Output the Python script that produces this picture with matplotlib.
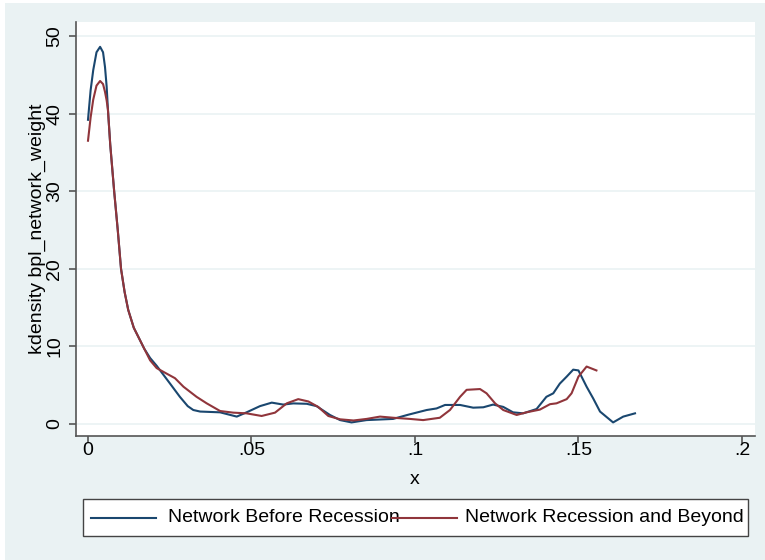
import matplotlib
matplotlib.use("Agg")
import matplotlib.pyplot as plt
from matplotlib.patches import Rectangle
from matplotlib.lines import Line2D

# ---- data ----
series_names = ["Network Before Recession", "Network Recession and Beyond"]

x_before = [0.0000, 0.0008, 0.0016, 0.0026, 0.0037, 0.0046, 0.0052, 0.0057, 0.0061,
            0.0068, 0.0080, 0.0091, 0.0101, 0.0112, 0.0123, 0.0140, 0.0159, 0.0172,
            0.0190, 0.0210, 0.0251, 0.0281,
            0.0305, 0.0322, 0.0343, 0.0404, 0.0455, 0.0485, 0.0526, 0.0562, 0.0597,
            0.0628, 0.0669, 0.0699, 0.0740, 0.0771, 0.0806, 0.0852, 0.0933, 0.0980,
            0.1036, 0.1066, 0.1092, 0.1138, 0.1178, 0.1209, 0.1239, 0.1270, 0.1300,
            0.1331, 0.1372, 0.1402, 0.1423, 0.1443, 0.1464, 0.1484, 0.1500, 0.1525,
            0.1545, 0.1566, 0.1606, 0.1637, 0.1673]
y_before = [39.2, 43.0, 45.6, 47.9, 48.6, 47.9, 46.0, 43.5, 40.5,
            36.0, 30.0, 25.0, 20.0, 17.0, 14.7, 12.4, 10.8, 9.7,
            8.5, 7.5, 5.2, 3.5,
            2.3, 1.8, 1.6, 1.5, 0.95, 1.5, 2.3, 2.75, 2.5,
            2.65, 2.6, 2.3, 1.16, 0.5, 0.2, 0.5, 0.65, 1.2,
            1.8, 2.0, 2.45, 2.45, 2.1, 2.15, 2.5, 2.2, 1.5,
            1.37, 1.93, 3.5, 3.95, 5.2, 6.1, 7.0, 6.9, 4.8,
            3.3, 1.6, 0.2, 0.95, 1.37]

x_after = [0.0000, 0.0008, 0.0016, 0.0026, 0.0037, 0.0046, 0.0052, 0.0057, 0.0061,
           0.0068, 0.0080, 0.0091, 0.0101, 0.0112, 0.0123, 0.0140, 0.0159, 0.0172,
           0.0190, 0.0210, 0.0240, 0.0266,
           0.0292, 0.0332, 0.0363, 0.0404, 0.0444, 0.0485, 0.0531, 0.0572, 0.0608,
           0.0643, 0.0674, 0.0704, 0.0735, 0.0771, 0.0812, 0.0852, 0.0893, 0.0934,
           0.0985, 0.1025, 0.1076, 0.1107, 0.1138, 0.1158, 0.1199, 0.1219, 0.1245,
           0.1270, 0.1311, 0.1341, 0.1382, 0.1413, 0.1433, 0.1464, 0.1479, 0.1500,
           0.1525, 0.1555]
y_after = [36.5, 39.5, 41.8, 43.6, 44.2, 43.8, 42.8, 41.7, 40.5,
           36.0, 30.0, 25.0, 20.0, 17.0, 14.7, 12.4, 10.8, 9.7,
           8.2, 7.2, 6.5, 5.9,
           4.8, 3.5, 2.66, 1.67, 1.46, 1.37, 1.03, 1.46, 2.66,
           3.2, 2.9, 2.2, 1.03, 0.6, 0.45, 0.65, 0.95, 0.8,
           0.65, 0.5, 0.8, 1.8, 3.5, 4.4, 4.5, 3.95, 2.66,
           1.8, 1.16, 1.5, 1.85, 2.55, 2.66, 3.2, 3.95, 6.1,
           7.4, 6.9]

x_ticks = [0, 0.05, 0.1, 0.15, 0.2]
x_tick_labels = ["0", ".05", ".1", ".15", ".2"]
y_ticks = [0, 10, 20, 30, 40, 50]
y_tick_labels = ["0", "10", "20", "30", "40", "50"]
x_label = "x"
y_label = "kdensity bpl_network_weight"

# ---- styling ----
FONT = ["Liberation Sans", "DejaVu Sans"]
plt.rcParams["font.family"] = FONT
BG = "#EAF2F3"
BLUE = "#1a476f"
RED = "#90353b"
AXC = "#555555"
FS = 14
W, H = 765, 560

fig = plt.figure(figsize=(W / 100, H / 100), dpi=100, facecolor="white")
fig.patches.append(Rectangle((5 / W, 0), 1 - 5 / W, 1 - 3 / H, transform=fig.transFigure,
                             facecolor=BG, edgecolor="none", zorder=-10))

# axes: plot region px x 76..755, y 22..436
AX_L, AX_R, AX_T, AX_B = 76, 755, 22, 436
ax = fig.add_axes([AX_L / W, 1 - AX_B / H, (AX_R - AX_L) / W, (AX_B - AX_T) / H])
ax.set_facecolor("white")
ax.plot(x_before, y_before, color=BLUE, lw=1.5, zorder=3, solid_joinstyle="round")
ax.plot(x_after, y_after, color=RED, lw=1.5, zorder=3, solid_joinstyle="round")

ax.set_xlim(-0.00367, 0.204)
ax.set_ylim(-1.55, 51.8)
ax.set_xticks(x_ticks)
ax.set_xticklabels(x_tick_labels, fontsize=FS)
ax.set_yticks(y_ticks)
ax.set_yticklabels(y_tick_labels, fontsize=FS, rotation=90, va="center")
ax.grid(axis="y", color=BG, lw=1.2, zorder=0)
ax.grid(axis="x", visible=False)
for s in ["top", "right"]:
    ax.spines[s].set_visible(False)
for s in ["left", "bottom"]:
    ax.spines[s].set_color(AXC)
    ax.spines[s].set_linewidth(1.2)
ax.tick_params(axis="x", direction="out", length=5, width=1.2, color=AXC, pad=-1)
ax.tick_params(axis="y", direction="out", length=5, width=1.2, color=AXC, pad=4)

ax.set_xlabel(x_label, fontsize=FS)
ax.xaxis.set_label_coords((415 - AX_L) / (AX_R - AX_L), -(480 - AX_B) / (AX_B - AX_T))
ax.xaxis.label.set_va("center")
ax.set_ylabel(y_label, fontsize=FS)
ax.yaxis.set_label_coords(-(AX_L - 37.5) / (AX_R - AX_L), (AX_B - 228.5) / (AX_B - AX_T))
ax.yaxis.label.set_va("center")
ax.yaxis.label.set_ha("center")

# legend box (manual, Stata style)
lx0, lx1, ly0, ly1 = 83, 748, 499, 536
fig.patches.append(Rectangle((lx0 / W, 1 - ly1 / H), (lx1 - lx0) / W, (ly1 - ly0) / H,
                             transform=fig.transFigure, facecolor="white",
                             edgecolor="#444444", lw=1.0, zorder=1))
ly = 1 - 518 / H
fig.lines.append(Line2D([91 / W, 156 / W], [ly, ly], transform=fig.transFigure,
                        color=BLUE, lw=1.5, zorder=2))
fig.text(168 / W, ly, series_names[0], fontsize=FS, va="center", ha="left", zorder=3)
fig.lines.append(Line2D([392 / W, 457 / W], [ly, ly], transform=fig.transFigure,
                        color=RED, lw=1.5, zorder=4))
fig.text(465 / W, ly, series_names[1], fontsize=FS, va="center", ha="left", zorder=3)

fig.savefig("out.png", dpi=100, facecolor=fig.get_facecolor())
